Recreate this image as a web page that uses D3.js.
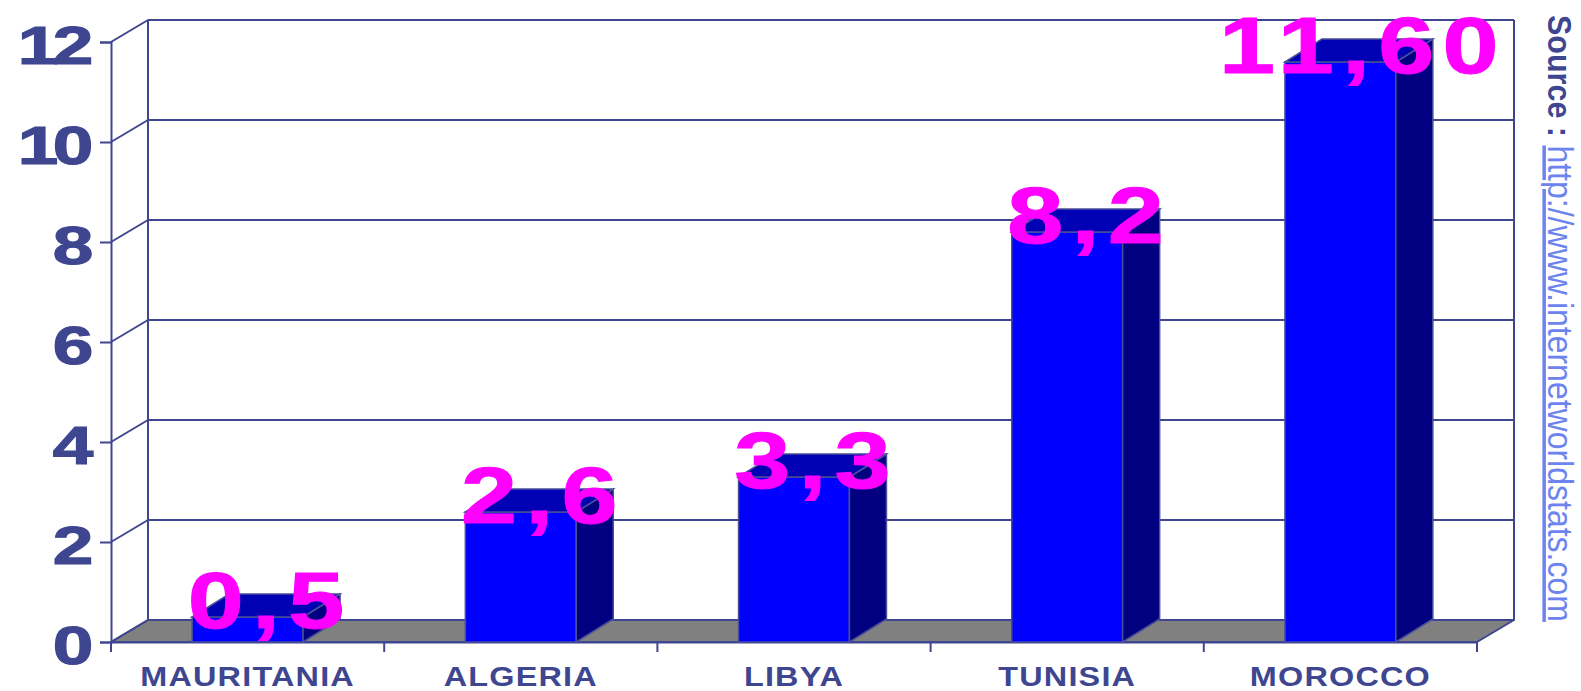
<!DOCTYPE html>
<html lang="en">
<head>
    <meta charset="UTF-8">
    <title>Internet users - North Africa</title>
    <script src="https://d3js.org/d3.v7.min.js"></script>
    <style>
        body { margin: 0; background: #fff; }
        svg { display: block; font-family: "Liberation Sans", Arial, sans-serif; }
    </style>
</head>
<body>
    <svg id="chart" width="1581" height="691"></svg>

    <script>
        const countries = ["MAURITANIA", "ALGERIA", "LIBYA", "TUNISIA", "MOROCCO"];
        const values = [0.5, 2.6, 3.3, 8.2, 11.6];
        const valueLabels = ["0,5", "2,6", "3,3", "8,2", "11,60"];
        const yTicks = [0, 2, 4, 6, 8, 10, 12];

        const axisColor = "#3f4690";
        const svg = d3.select("#chart");

        // plot front plane and 3d depth offset
        const plotLeft = 111, plotRight = 1477, plotBottom = 642, plotTop = 42;
        const dx = 37, dy = -22;
        const bdx = 37, bdy = -23;

        const x = d3.scaleBand()
            .domain(countries)
            .range([plotLeft, plotRight])
            .paddingInner(0.594)
            .paddingOuter(0.297);

        const y = d3.scaleLinear()
            .domain([0, 12])
            .range([plotBottom, plotTop]);

        const bw = x.bandwidth();

        // floor
        svg.append("polygon")
            .attr("points", [[plotLeft, y(0)], [plotRight, y(0)], [plotRight + dx, y(0) + dy], [plotLeft + dx, y(0) + dy]].join(" "))
            .attr("fill", "#808080")
            .attr("stroke", axisColor)
            .attr("stroke-width", 2)
            .attr("stroke-linejoin", "round");

        // back wall grid lines
        svg.append("g").selectAll("line")
            .data(yTicks.filter(d => d > 0))
            .enter().append("line")
            .attr("x1", plotLeft + dx).attr("x2", plotRight + dx)
            .attr("y1", d => y(d) + dy).attr("y2", d => y(d) + dy)
            .attr("stroke", axisColor).attr("stroke-width", 2);

        // left wall diagonals
        svg.append("g").selectAll("line")
            .data(yTicks)
            .enter().append("line")
            .attr("x1", plotLeft).attr("x2", plotLeft + dx)
            .attr("y1", d => y(d)).attr("y2", d => y(d) + dy)
            .attr("stroke", axisColor).attr("stroke-width", 2);

        // wall verticals
        svg.append("line")
            .attr("x1", plotLeft + dx).attr("x2", plotLeft + dx)
            .attr("y1", y(0) + dy).attr("y2", y(12) + dy)
            .attr("stroke", axisColor).attr("stroke-width", 2);
        svg.append("line")
            .attr("x1", plotRight + dx).attr("x2", plotRight + dx)
            .attr("y1", y(0) + dy).attr("y2", y(12) + dy)
            .attr("stroke", axisColor).attr("stroke-width", 2);

        // y axis
        const yAxis = svg.append("g")
            .attr("transform", `translate(${plotLeft},0)`)
            .call(d3.axisLeft(y).tickValues(yTicks).tickSize(11).tickPadding(0));
        yAxis.select(".domain").attr("stroke", axisColor).attr("stroke-width", 2);
        yAxis.selectAll(".tick line").attr("stroke", axisColor).attr("stroke-width", 2);
        yAxis.selectAll(".tick text")
            .attr("x", null)
            .attr("dy", "0.39em")
            .attr("transform", "translate(-23,0) scale(1.35,1)")
            .attr("fill", axisColor)
            .attr("stroke", axisColor)
            .attr("stroke-width", 1.2)
            .attr("letter-spacing", -4)
            .attr("font-size", 54)
            .attr("font-weight", "bold")
            .attr("font-family", "'Liberation Sans', Arial, sans-serif");

        // x axis: labels at band centres, ticks at band edges
        const xAxis = svg.append("g")
            .attr("transform", `translate(0,${plotBottom})`)
            .call(d3.axisBottom(x).tickSize(0).tickPadding(0));
        xAxis.select(".domain").attr("stroke", axisColor).attr("stroke-width", 2);
        xAxis.selectAll(".tick text")
            .attr("y", null).attr("dy", null)
            .attr("transform", "translate(0,44) scale(1.2,1)")
            .attr("fill", axisColor)
            .attr("letter-spacing", 1)
            .attr("font-size", 27)
            .attr("font-weight", "bold")
            .attr("font-family", "'Liberation Sans', Arial, sans-serif");

        xAxis.selectAll(".edge")
            .data(d3.range(countries.length + 1))
            .enter().append("line")
            .attr("class", "edge")
            .attr("x1", i => plotLeft + i * x.step()).attr("x2", i => plotLeft + i * x.step())
            .attr("y1", 0).attr("y2", 10)
            .attr("stroke", axisColor).attr("stroke-width", 2);

        // bars
        const bars = svg.append("g").selectAll("g")
            .data(countries.map((c, i) => ({c, v: values[i], label: valueLabels[i]})))
            .enter().append("g");

        bars.append("rect")
            .attr("x", d => x(d.c))
            .attr("y", d => y(d.v))
            .attr("width", bw)
            .attr("height", d => y(0) - y(d.v))
            .attr("fill", "#0000ff")
            .attr("stroke", "#4a4f98").attr("stroke-width", 1.5);

        bars.append("polygon")
            .attr("points", d => {
                const x1 = x(d.c) + bw, yt = y(d.v), yb = y(0);
                return [[x1, yt], [x1 + bdx, yt + bdy], [x1 + bdx, yb + bdy], [x1, yb]].join(" ");
            })
            .attr("fill", "#000080")
            .attr("stroke", "#4a4f98").attr("stroke-width", 1.5);

        bars.append("polygon")
            .attr("points", d => {
                const x0 = x(d.c), yt = y(d.v);
                return [[x0, yt], [x0 + bdx, yt + bdy], [x0 + bw + bdx, yt + bdy], [x0 + bw, yt]].join(" ");
            })
            .attr("fill", "#0000b4")
            .attr("stroke", "#4a4f98").attr("stroke-width", 1.5);

        // value labels
        bars.append("text")
            .attr("transform", d => `translate(${x(d.c) + bw / 2 + bdx / 2 + 4},${y(d.v) + 11}) scale(1.26,1)`)
            .attr("text-anchor", "middle")
            .attr("font-size", 80)
            .attr("font-weight", "bold")
            .attr("letter-spacing", 6.5)
            .attr("fill", "#ff00ff")
            .attr("stroke", "#ff00ff")
            .attr("stroke-width", 1)
            .text(d => d.label);

        // source note
        const src = svg.append("text")
            .attr("transform", "translate(1548,15) rotate(90) scale(1,1.1)")
            .attr("font-size", 30.5);
        src.append("tspan")
            .attr("fill", axisColor)
            .attr("font-weight", "bold")
            .text("Source : ");
        src.append("tspan")
            .attr("fill", "#6d84ee")
            .attr("font-size", 32)
            .attr("text-decoration", "underline")
            .text("http://www.internetworldstats.com");
    </script>
</body>
</html>
